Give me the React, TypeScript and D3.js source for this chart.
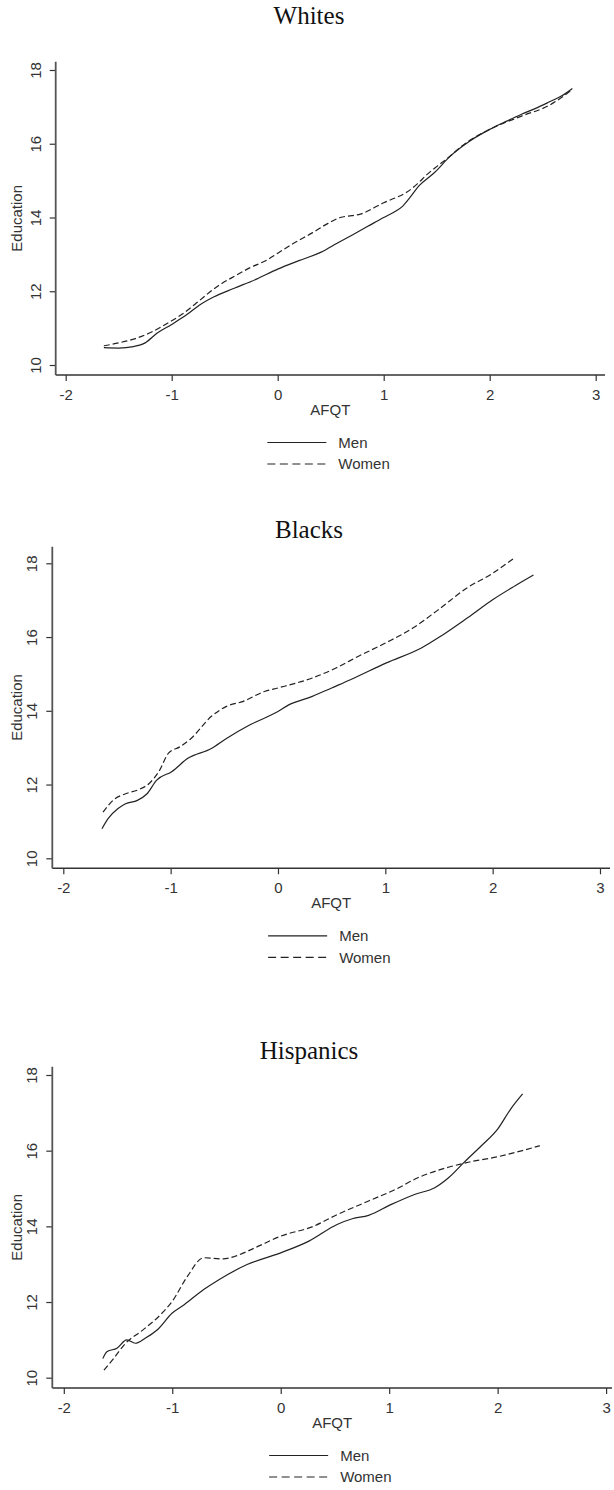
import React, { useEffect, useRef } from "react";
import * as d3 from "d3";

// [AFQT, Education] pairs
const whitesMen: [number, number][] = [
  [-1.64, 10.47], [-1.5, 10.46], [-1.36, 10.5], [-1.25, 10.6], [-1.14, 10.86], [-1.0, 11.1],
  [-0.85, 11.38], [-0.74, 11.62], [-0.6, 11.85], [-0.41, 12.08], [-0.2, 12.33], [0, 12.6],
  [0.2, 12.83], [0.41, 13.06], [0.56, 13.3], [0.7, 13.52], [0.85, 13.76], [1.0, 14.0],
  [1.1, 14.15], [1.18, 14.31], [1.25, 14.55], [1.33, 14.85], [1.48, 15.22], [1.63, 15.67],
  [1.81, 16.07], [2.0, 16.39], [2.15, 16.6], [2.3, 16.8], [2.45, 16.98], [2.56, 17.13],
  [2.68, 17.3], [2.78, 17.5],
];
const whitesWomen: [number, number][] = [
  [-1.64, 10.52], [-1.5, 10.6], [-1.36, 10.7], [-1.2, 10.88], [-1.0, 11.2], [-0.9, 11.38],
  [-0.78, 11.65], [-0.56, 12.15], [-0.4, 12.42], [-0.26, 12.64], [-0.1, 12.85], [0, 13.03],
  [0.15, 13.3], [0.33, 13.59], [0.45, 13.8], [0.59, 14.0], [0.7, 14.05], [0.78, 14.09],
  [0.9, 14.25], [1.0, 14.4], [1.1, 14.52], [1.22, 14.69], [1.32, 14.92], [1.41, 15.17],
  [1.5, 15.38], [1.59, 15.58], [1.78, 16.03], [2.0, 16.39], [2.3, 16.75], [2.56, 17.04],
  [2.78, 17.47],
];
const blacksMen: [number, number][] = [
  [-1.64, 10.8], [-1.585, 11.07], [-1.49, 11.35], [-1.42, 11.48], [-1.31, 11.57], [-1.22, 11.75],
  [-1.13, 12.12], [-0.99, 12.35], [-0.84, 12.71], [-0.62, 12.98], [-0.48, 13.25], [-0.26, 13.62],
  [0, 13.98], [0.1, 14.16], [0.32, 14.39], [0.5, 14.62], [0.68, 14.85], [1.01, 15.3],
  [1.34, 15.71], [1.52, 16.03], [1.77, 16.53], [2.01, 17.03], [2.21, 17.39], [2.38, 17.68],
];
const blacksWomen: [number, number][] = [
  [-1.63, 11.25], [-1.53, 11.59], [-1.42, 11.75], [-1.3, 11.86], [-1.2, 12.03], [-1.11, 12.35],
  [-1.02, 12.85], [-0.91, 13.03], [-0.81, 13.25], [-0.62, 13.85], [-0.48, 14.12], [-0.33, 14.25],
  [-0.12, 14.53], [0, 14.62], [0.32, 14.89], [0.54, 15.16], [0.75, 15.48], [1.01, 15.85],
  [1.26, 16.25], [1.48, 16.71], [1.77, 17.35], [1.99, 17.71], [2.19, 18.12],
];
const hispanicsMen: [number, number][] = [
  [-1.64, 10.51], [-1.6, 10.69], [-1.51, 10.78], [-1.42, 11.0], [-1.34, 10.91], [-1.25, 11.04],
  [-1.14, 11.26], [-1.0, 11.71], [-0.89, 11.93], [-0.71, 12.33], [-0.57, 12.59], [-0.31, 12.99],
  [0, 13.3], [0.26, 13.61], [0.52, 14.05], [0.66, 14.2], [0.81, 14.29], [1.02, 14.58],
  [1.24, 14.85], [1.42, 15.02], [1.55, 15.29], [1.69, 15.69], [1.85, 16.13], [2.0, 16.57],
  [2.12, 17.1], [2.23, 17.5],
];
const hispanicsWomen: [number, number][] = [
  [-1.63, 10.2], [-1.54, 10.51], [-1.43, 10.91], [-1.29, 11.22], [-1.11, 11.66], [-1.0, 12.02],
  [-0.86, 12.68], [-0.71, 13.17], [-0.53, 13.14], [-0.42, 13.21], [-0.24, 13.43], [0, 13.74],
  [0.3, 14.0], [0.52, 14.31], [0.81, 14.67], [1.06, 14.98], [1.27, 15.29], [1.53, 15.55],
  [1.74, 15.7], [2.0, 15.84], [2.21, 15.99], [2.39, 16.13],
];

const groupTitles = ["Whites", "Blacks", "Hispanics"];
const xTicks = [-2, -1, 0, 1, 2, 3];
const yTicks = [10, 12, 14, 16, 18];
const seriesNames = ["Men", "Women"];

// pixel layout of each panel (screen coordinates)
const layouts = [
  { left: 55.7, right: 605, xLo: 65.7, xHi: 595.7, top: 61.7, bottom: 375, y10: 365, y18: 70, titleY: 24 },
  { left: 52.3, right: 610, xLo: 63.3, xHi: 600, top: 546.7, bottom: 868.3, y10: 858.3, y18: 563.3, titleY: 538 },
  { left: 52.3, right: 612, xLo: 63.8, xHi: 606.1, top: 1066.7, bottom: 1388, y10: 1377.7, y18: 1075, titleY: 1059 },
];

const W = 614;
const H = 1490;
const sans = "'Liberation Sans', Arial, sans-serif";
const ink = "#222";

const Panel = ({ title, men, women, lay }) => {
  const ref = useRef(null);

  useEffect(() => {
    const g = d3.select(ref.current);
    g.selectAll("*").remove();

    const x = d3.scaleLinear().domain([-2, 3]).range([lay.xLo, lay.xHi]);
    const y = d3.scaleLinear().domain([10, 18]).range([lay.y10, lay.y18]);
    const cx = (lay.left + lay.right) / 2;

    // title
    g.append("text")
      .attr("x", 309)
      .attr("y", lay.titleY)
      .attr("text-anchor", "middle")
      .style("font-family", "'Liberation Serif', 'Times New Roman', serif")
      .style("font-size", "25px")
      .style("fill", "#111")
      .text(title);

    // x axis
    const xAxis = g.append("g")
      .attr("transform", `translate(0,${lay.bottom})`)
      .call(d3.axisBottom(x).tickValues(xTicks).tickSize(6).tickSizeOuter(0).tickFormat(d3.format("d")));
    xAxis.select(".domain").remove();
    xAxis.append("line")
      .attr("x1", lay.left).attr("x2", lay.right)
      .attr("stroke", "#333").attr("stroke-width", 1.5);
    xAxis.selectAll(".tick line").attr("stroke", "#333").attr("stroke-width", 1.2);
    xAxis.selectAll(".tick text")
      .attr("y", 24.5).attr("dy", 0)
      .style("font-family", sans).style("font-size", "15px").style("fill", "#333")
      .text(d => (d < 0 ? "-" + Math.abs(d) : String(d)));

    // y axis
    const yAxis = g.append("g")
      .attr("transform", `translate(${lay.left},0)`)
      .call(d3.axisLeft(y).tickValues(yTicks).tickSize(6).tickSizeOuter(0));
    yAxis.select(".domain").remove();
    yAxis.append("line")
      .attr("y1", lay.top).attr("y2", lay.bottom)
      .attr("stroke", "#555").attr("stroke-width", 1.8);
    yAxis.selectAll(".tick line").attr("stroke", "#333").attr("stroke-width", 1.2);
    yAxis.selectAll(".tick text")
      .attr("x", 0).attr("y", -15).attr("dy", 0)
      .attr("transform", "rotate(-90)")
      .attr("text-anchor", "middle")
      .style("font-family", sans).style("font-size", "15px").style("fill", "#333");

    // axis titles
    g.append("text")
      .attr("x", cx)
      .attr("y", lay.bottom + 40)
      .attr("text-anchor", "middle")
      .style("font-family", sans).style("font-size", "15px").style("fill", "#333")
      .text("AFQT");
    g.append("text")
      .attr("transform", `translate(22,${(lay.top + lay.bottom) / 2}) rotate(-90)`)
      .attr("text-anchor", "middle")
      .style("font-family", sans).style("font-size", "15px").style("fill", "#333")
      .text("Education");

    // curves
    const line = d3.line<[number, number]>()
      .x(d => x(d[0]))
      .y(d => y(d[1]))
      .curve(d3.curveMonotoneX);

    g.append("path")
      .attr("d", line(men))
      .attr("fill", "none")
      .attr("stroke", ink)
      .attr("stroke-width", 1.2);
    g.append("path")
      .attr("d", line(women))
      .attr("fill", "none")
      .attr("stroke", ink)
      .attr("stroke-width", 1.2)
      .attr("stroke-dasharray", "6,3");

    // legend
    const legend = g.append("g");
    seriesNames.forEach((name, i) => {
      const ly = lay.bottom + 67.5 + i * 21.5;
      legend.append("line")
        .attr("x1", cx - 63).attr("x2", cx - 4)
        .attr("y1", ly).attr("y2", ly)
        .attr("stroke", ink).attr("stroke-width", 1.2)
        .attr("stroke-dasharray", i === 1 ? "8,4.5" : null);
      legend.append("text")
        .attr("x", cx + 8)
        .attr("y", ly + 5.4)
        .style("font-family", sans).style("font-size", "15px").style("fill", "#333")
        .text(name);
    });
  }, [title, men, women, lay]);

  return <g ref={ref}></g>;
};

const panels = [
  { title: groupTitles[0], men: whitesMen, women: whitesWomen },
  { title: groupTitles[1], men: blacksMen, women: blacksWomen },
  { title: groupTitles[2], men: hispanicsMen, women: hispanicsWomen },
];

export default function App() {
  return (
    <svg
      width={W}
      height={H}
      style={{ position: "absolute", left: 0, top: 0, background: "#fff" }}
    >
      <rect width={W} height={H} fill="#fff" />
      {panels.map((p, i) => (
        <Panel key={p.title} title={p.title} men={p.men} women={p.women} lay={layouts[i]} />
      ))}
    </svg>
  );
}
